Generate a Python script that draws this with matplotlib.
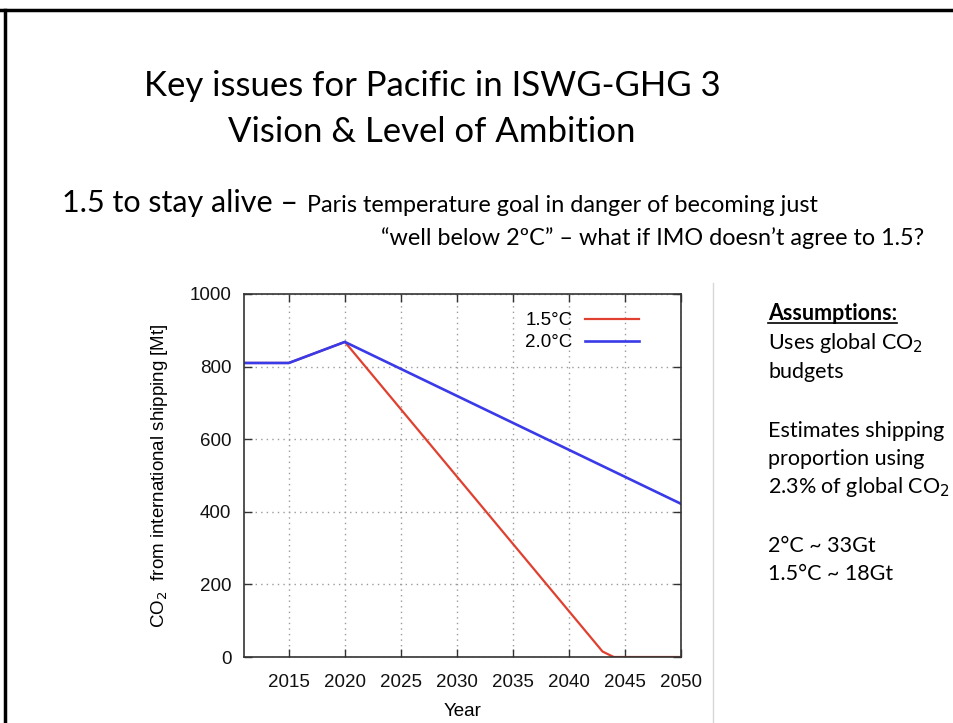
import matplotlib
matplotlib.use("Agg")
import matplotlib.pyplot as plt
from matplotlib.lines import Line2D

YEARS_15 = [2011, 2015, 2020, 2043, 2044, 2050]
CO2_15 = [810, 810, 868, 15, 0, 0]
YEARS_20 = [2011, 2015, 2020, 2050]
CO2_20 = [810, 810, 868, 422]
X_TICKS = [2015, 2020, 2025, 2030, 2035, 2040, 2045, 2050]
Y_TICKS = [0, 200, 400, 600, 800, 1000]

COLORS = {"1.5°C": "#e0402f", "2.0°C": "#3a3ae8"}
SLIDE_FONT = ["Lato", "DejaVu Sans"]
PLOT_FONT = ["Liberation Sans", "DejaVu Sans"]

W, H = 954, 723
fig = plt.figure(figsize=(W / 100, H / 100), dpi=100)


def px(x, y):
    return x / W, 1 - y / H


# slide frame (top and left edges)
fig.add_artist(Line2D([0, 1], [1 - 10 / H] * 2, color="black", linewidth=2.5))
fig.add_artist(Line2D([5 / W] * 2, [0, 1 - 10 / H], color="black", linewidth=2.5))
# light separator to the right of the chart image
fig.add_artist(Line2D([713 / W] * 2, [0, 1 - 283 / H], color="#d8d8d8", linewidth=1))

fig.text(*px(432, 86), "Key issues for Pacific in ISWG-GHG 3", ha="center", va="center",
         fontsize=25, family=SLIDE_FONT)
fig.text(*px(432, 132), "Vision & Level of Ambition", ha="center", va="center",
         fontsize=25, family=SLIDE_FONT)
fig.text(*px(62, 203), "1.5 to stay alive \u2013", ha="left", va="center",
         fontsize=22, family=SLIDE_FONT)
fig.text(*px(307, 205), "Paris temperature goal in danger of becoming just", ha="left",
         va="center", fontsize=16.8, family=SLIDE_FONT)
fig.text(*px(381, 238), "\u201cwell below 2\u00baC\u201d \u2013 what if IMO doesn\u2019t agree to 1.5?",
         ha="left", va="center", fontsize=16.8, family=SLIDE_FONT)

# assumptions block
note_x = 768
head = fig.text(*px(note_x, 313), "Assumptions:", ha="left", va="center", fontsize=15.5,
                fontweight="bold", family=SLIDE_FONT)
notes = [
    (343, "Uses global CO$_2$"),
    (372, "budgets"),
    (431, "Estimates shipping"),
    (459, "proportion using"),
    (487, "2.3% of global CO$_2$"),
    (546, "2\u00b0C ~ 33Gt"),
    (574, "1.5\u00b0C ~ 18Gt"),
]
for y, text in notes:
    fig.text(*px(note_x, y), text, ha="left", va="center", fontsize=15.5, family=SLIDE_FONT)

fig.canvas.draw()
head_box = head.get_window_extent()
fig.add_artist(Line2D([note_x / W, head_box.x1 / W], [1 - 323 / H] * 2,
                      color="black", linewidth=1.2))

# chart
left, right, top, bottom = 244, 681, 294, 657
ax = fig.add_axes([left / W, 1 - bottom / H, (right - left) / W, (bottom - top) / H])
ax.plot(YEARS_15, CO2_15, color=COLORS["1.5°C"], linewidth=1.6, label="1.5°C")
ax.plot(YEARS_20, CO2_20, color=COLORS["2.0°C"], linewidth=1.9, label="2.0°C")
ax.set_xlim(2011, 2050)
ax.set_ylim(0, 1000)
ax.set_xticks(X_TICKS)
ax.set_yticks(Y_TICKS)
ax.tick_params(direction="in", length=6, width=1, top=True, right=True,
               labelsize=13.5, colors="#333333", labelcolor="#111111")
ax.tick_params(axis="x", pad=12)
ax.tick_params(axis="y", pad=9)
for label in ax.get_xticklabels() + ax.get_yticklabels():
    label.set_family(PLOT_FONT)
for spine in ax.spines.values():
    spine.set_linewidth(1.2)
    spine.set_color("#333333")
ax.grid(True, linestyle=(0, (1, 3)), color="#9a9a9a", linewidth=1)
ax.set_xlabel("Year", fontsize=13.5, family=PLOT_FONT, labelpad=9)
ax.set_ylabel("CO$_2$  from international shipping [Mt]", fontsize=13.5,
              family=PLOT_FONT, labelpad=14)
ax.legend(loc="upper right", frameon=False, markerfirst=False,
          handlelength=2.9, handletextpad=0.65, labelspacing=0.25,
          borderaxespad=0, borderpad=0, bbox_to_anchor=(0.904, 0.95),
          prop={"family": PLOT_FONT, "size": 13.5})

fig.savefig("out.png", dpi=100, facecolor="white")
